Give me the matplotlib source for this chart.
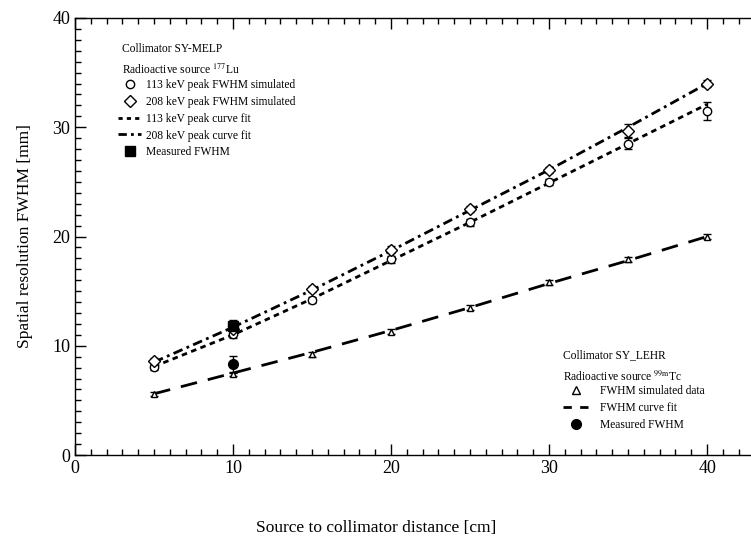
import numpy as np
import matplotlib
matplotlib.use("Agg")
import matplotlib.pyplot as plt
from matplotlib.lines import Line2D
from matplotlib.ticker import MultipleLocator

plt.rcParams['font.family'] = ['Liberation Serif', 'DejaVu Serif']
plt.rcParams['mathtext.fontset'] = 'stix'

# data
dist = [5, 10, 15, 20, 25, 30, 35, 40]

melp_113 = [8.1, 11.1, 14.2, 17.9, 21.3, 25.0, 28.5, 31.5]
melp_113_err = [0.3, 0.4, 0.3, 0.3, 0.3, 0.3, 0.5, 0.8]
melp_208 = [8.6, 11.5, 15.2, 18.8, 22.5, 26.1, 29.7, 34.0]
melp_208_err = [0.3, 0.4, 0.3, 0.3, 0.3, 0.3, 0.6, 0.3]
fit_113 = [8.1, 11.0, 14.3, 17.8, 21.3, 24.9, 28.5, 32.1]
fit_208 = [8.5, 11.7, 15.1, 18.7, 22.4, 26.1, 30.0, 34.0]

lehr = [5.6, 7.4, 9.2, 11.3, 13.5, 15.8, 17.9, 20.0]
lehr_err = [0.2, 0.2, 0.2, 0.2, 0.2, 0.2, 0.2, 0.2]
fit_lehr = [5.6, 7.5, 9.4, 11.4, 13.5, 15.7, 17.8, 20.0]

meas_melp_x = [10]
meas_melp = [11.8]
meas_melp_err = [0.6]
meas_lehr_x = [10]
meas_lehr = [8.3]
meas_lehr_err = [0.8]

fig = plt.figure(figsize=(7.51, 5.43), dpi=100)
ax = fig.add_axes([75/751, 1 - 455/543, 1 - 75/751, 437/543])

ax.plot(dist, fit_113, color='black', lw=2, ls=(0, (2, 1.6)))
ax.plot(dist, fit_208, color='black', lw=2, ls=(0, (3.5, 1.6, 1, 1.6)))
ax.plot(dist, fit_lehr, color='black', lw=2, ls=(0, (6, 4)))

ek = dict(ecolor='black', elinewidth=1, capsize=3, capthick=1, ls='none')
ax.errorbar(dist, melp_113, yerr=melp_113_err, marker='o', ms=6, mfc='white',
            mec='black', mew=1, **ek)
ax.errorbar(dist, melp_208, yerr=melp_208_err, marker='D', ms=6, mfc='white',
            mec='black', mew=1, **ek)
ax.errorbar(dist, lehr, yerr=lehr_err, marker='^', ms=4.5, mfc='white',
            mec='black', mew=1, **ek)
ax.errorbar(meas_melp_x, meas_melp, yerr=meas_melp_err, marker='s', ms=7,
            mfc='black', mec='black', **ek)
ax.errorbar(meas_lehr_x, meas_lehr, yerr=meas_lehr_err, marker='o', ms=7,
            mfc='black', mec='black', **ek)

ax.set_xlim(0, 42.78)
ax.set_ylim(0, 40)
ax.xaxis.set_major_locator(MultipleLocator(10))
ax.xaxis.set_minor_locator(MultipleLocator(1))
ax.yaxis.set_major_locator(MultipleLocator(10))
ax.yaxis.set_minor_locator(MultipleLocator(1))
ax.tick_params(which='both', direction='in', top=True, right=False, labelsize=13)
ax.tick_params(which='major', length=8, width=1)
ax.tick_params(which='minor', length=4, width=1)
ax.spines['right'].set_visible(False)
for s in ['left', 'bottom', 'top']:
    ax.spines[s].set_linewidth(1)

ax.set_ylabel('Spatial resolution FWHM [mm]', fontsize=12.5, labelpad=14)
ax.set_xlabel('Source to collimator distance [cm]', fontsize=12.5)
ax.xaxis.set_label_coords(301/676, -0.148)

fs = 8.3
# upper-left legend block
fig.text(122/751, 1 - 49/543, 'Collimator SY-MELP', fontsize=fs, va='center')
fig.text(122/751, 1 - 70/543, r'Radioactive source $^{177}$Lu', fontsize=fs, va='center')
h1 = [Line2D([], [], marker='o', ms=6, mfc='white', mec='black', ls='none'),
      Line2D([], [], marker='D', ms=6, mfc='white', mec='black', ls='none'),
      Line2D([], [], color='black', lw=2, ls=(0, (1.5, 1.5))),
      Line2D([], [], color='black', lw=2, ls=(0, (3, 1.5, 1, 1.5))),
      Line2D([], [], marker='s', ms=7, mfc='black', mec='black', ls='none')]
l1 = ['113 keV peak FWHM simulated', '208 keV peak FWHM simulated',
      '113 keV peak curve fit', '208 keV peak curve fit', 'Measured FWHM']
leg1 = fig.legend(h1, l1, loc='upper left', bbox_to_anchor=(118/751, 1 - 79/543),
                  frameon=False, fontsize=fs, handlelength=2.0, handletextpad=0.4,
                  labelspacing=0.42, borderpad=0, borderaxespad=0)

# lower-right legend block
fig.text(563/751, 1 - 355/543, 'Collimator SY_LEHR', fontsize=fs, va='center')
fig.text(563/751, 1 - 377/543, r'Radioactive source $^{99\mathrm{m}}$Tc', fontsize=fs, va='center')
h2 = [Line2D([], [], marker='^', ms=6, mfc='white', mec='black', ls='none'),
      Line2D([], [], color='black', lw=2, ls=(0, (3, 3))),
      Line2D([], [], marker='o', ms=7, mfc='black', mec='black', ls='none')]
l2 = ['FWHM simulated data', 'FWHM curve fit', 'Measured FWHM']
leg2 = fig.legend(h2, l2, loc='upper left', bbox_to_anchor=(563/751, 1 - 385/543),
                  frameon=False, fontsize=fs, handlelength=2.2, handletextpad=1.0,
                  labelspacing=0.42, borderpad=0, borderaxespad=0)

fig.savefig('out.png', dpi=100)
